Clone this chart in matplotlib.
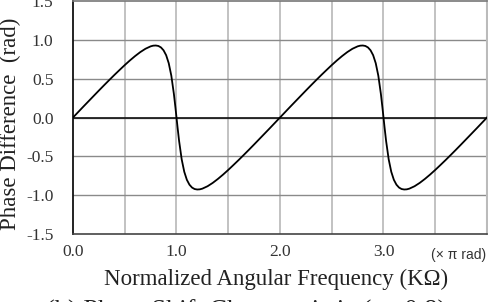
import numpy as np
import matplotlib
matplotlib.use("Agg")
import matplotlib.pyplot as plt

# phase difference (x in units of pi rad)
freq = [0.0, 0.05, 0.1, 0.15, 0.2, 0.25, 0.3, 0.35, 0.4, 0.45, 0.5, 0.55, 0.6, 0.65,
        0.7, 0.75, 0.775, 0.8, 0.825, 0.85, 0.875, 0.9, 0.925, 0.95, 0.975, 0.99, 1.0,
        1.01, 1.025, 1.05, 1.075, 1.1, 1.125, 1.15, 1.175, 1.2, 1.225, 1.25, 1.3, 1.35,
        1.4, 1.45, 1.5, 1.55, 1.6, 1.65, 1.7, 1.75, 1.8, 1.85, 1.9, 1.95, 2.0,
        2.05, 2.1, 2.15, 2.2, 2.25, 2.3, 2.35, 2.4, 2.45, 2.5, 2.55, 2.6, 2.65,
        2.7, 2.75, 2.775, 2.8, 2.825, 2.85, 2.875, 2.9, 2.925, 2.95, 2.975, 2.99, 3.0,
        3.01, 3.025, 3.05, 3.075, 3.1, 3.125, 3.15, 3.175, 3.2, 3.225, 3.25, 3.3, 3.35,
        3.4, 3.45, 3.5, 3.55, 3.6, 3.65, 3.7, 3.75, 3.8, 3.85, 3.9, 3.95, 4.0]
phase = [0.0, 0.070, 0.140, 0.209, 0.278, 0.347, 0.415, 0.482, 0.548, 0.612, 0.675, 0.735, 0.791, 0.842,
         0.885, 0.916, 0.925, 0.927, 0.921, 0.902, 0.865, 0.802, 0.699, 0.538, 0.301, 0.125, 0.0,
         -0.125, -0.301, -0.538, -0.699, -0.802, -0.865, -0.902, -0.921, -0.927, -0.925, -0.916, -0.885, -0.842,
         -0.791, -0.735, -0.675, -0.612, -0.548, -0.482, -0.415, -0.347, -0.278, -0.209, -0.140, -0.070, 0.0,
         0.070, 0.140, 0.209, 0.278, 0.347, 0.415, 0.482, 0.548, 0.612, 0.675, 0.735, 0.791, 0.842,
         0.885, 0.916, 0.925, 0.927, 0.921, 0.902, 0.865, 0.802, 0.699, 0.538, 0.301, 0.125, 0.0,
         -0.125, -0.301, -0.538, -0.699, -0.802, -0.865, -0.902, -0.921, -0.927, -0.925, -0.916, -0.885, -0.842,
         -0.791, -0.735, -0.675, -0.612, -0.548, -0.482, -0.415, -0.347, -0.278, -0.209, -0.140, -0.070, 0.0]

xticks = [0.0, 0.5, 1.0, 1.5, 2.0, 2.5, 3.0, 3.5]
xticklabels = ['0.0', '', '1.0', '', '2.0', '', '3.0', '']
yticks = [-1.5, -1.0, -0.5, 0.0, 0.5, 1.0, 1.5]
yticklabels = ['-1.5', '-1.0', '-0.5', '0.0', '0.5', '1.0', '1.5']

serif = 'Liberation Serif'
W, H = 489, 302

fig = plt.figure(figsize=(W / 100, H / 100), dpi=100)
ax = fig.add_axes([73 / W, (H - 234) / H, (487 - 73) / W, (234 - 1) / H])

ax.set_xlim(0, 4)
ax.set_ylim(-1.5, 1.5)
ax.set_xticks(xticks)
ax.set_xticklabels(xticklabels, fontfamily=serif, fontsize=12.5, color='#333333')
ax.set_yticks(yticks)
ax.set_yticklabels(yticklabels, fontfamily=serif, fontsize=12.5, color='#333333')
ax.tick_params(axis='x', length=0, pad=7)
ax.tick_params(axis='y', length=0, pad=14)

# grid: vertical light, horizontal darker
for xv in xticks[1:]:
    ax.axvline(xv, color='#b8b8b8', lw=1.2, zorder=1)
for yv in yticks[1:-1]:
    ax.axhline(yv, color='#8a8a8a', lw=1.0, zorder=1)
ax.axhline(0, color='#111111', lw=1.2, zorder=2)

ax.plot(freq, phase, color='black', lw=1.3, zorder=3)

ax.spines['left'].set_color('#111111')
ax.spines['left'].set_linewidth(1.3)
ax.spines['bottom'].set_color('#444444')
ax.spines['bottom'].set_linewidth(1.2)
ax.spines['top'].set_color('#777777')
ax.spines['top'].set_linewidth(1.2)
ax.spines['right'].set_color('#bbbbbb')
ax.spines['right'].set_linewidth(1.5)

fig.text(10 / W, 1 - 124 / H, 'Phase Difference  (rad)', rotation=90, ha='center', va='center',
         fontfamily=serif, fontsize=16.5, color='#222222')
fig.text(276 / W, (H - 285) / H, 'Normalized Angular Frequency (K\u03a9)', ha='center', va='baseline',
         fontfamily=serif, fontsize=16.5, color='#222222')
fig.text(431 / W, 1 - 255 / H, '(\u00d7 \u03c0 rad)', ha='left', va='center',
         fontfamily='Liberation Sans', fontsize=10, color='#333333')
fig.text(246 / W, (H - 318) / H, '(b) Phase Shift Characteristic (a= 0.8)', ha='center', va='baseline',
         fontfamily=serif, fontsize=19, color='#222222')

fig.savefig('out.png', dpi=100)
